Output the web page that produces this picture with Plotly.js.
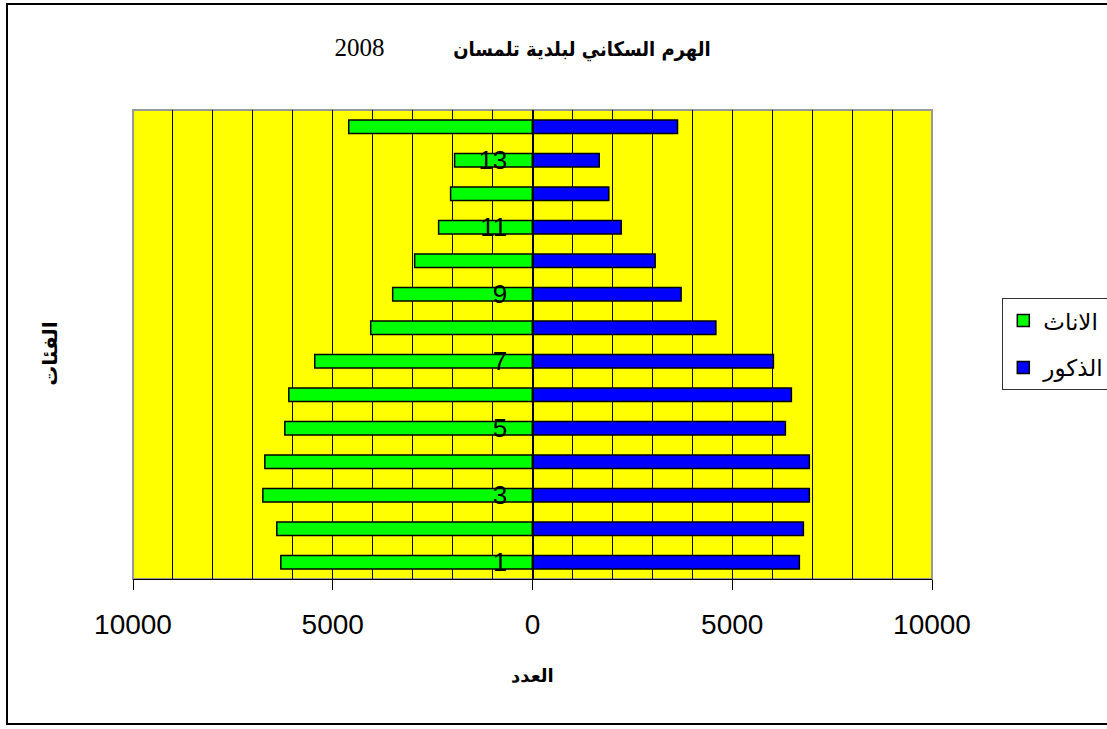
<!DOCTYPE html>
<html>
<head>
<meta charset="utf-8">
<script src="https://cdn.plot.ly/plotly-3.0.1.min.js"></script>
<style>
  html, body { margin: 0; padding: 0; background: #fff; }
  #wrap { position: relative; width: 1107px; height: 729px; overflow: hidden; }
  #chart { width: 1107px; height: 729px; }
  #frame { position: absolute; left: 6px; top: 3px; width: 1120px; height: 722px;
           border: 2px solid #000; pointer-events: none; box-sizing: border-box; }
</style>
</head>
<body>
<div id="wrap">
  <div id="chart"></div>
  <div id="frame"></div>
</div>
<script>
// Age groups (bottom to top) and population counts per sex, Tlemcen 2008
const ageGroups = [1, 2, 3, 4, 5, 6, 7, 8, 9, 10, 11, 12, 13, 14];
const females = [6300, 6400, 6750, 6700, 6200, 6100, 5450, 4050, 3500, 2950, 2350, 2050, 1950, 4600];
const males   = [6680, 6780, 6930, 6930, 6330, 6480, 6030, 4590, 3720, 3070, 2220, 1910, 1670, 3630];

const labeledGroups = [1, 3, 5, 7, 9, 11, 13];
const xTickVals = [-10000, -5000, 0, 5000, 10000];
const xTickText = ['10000', '5000', '0', '5000', '10000'];

const femaleName = 'الاناث';
const maleName = 'الذكور';
const titleArabic = 'الهرم السكاني لبلدية تلمسان';
const titleYear = '2008';
const xTitle = 'العدد';
const yTitle = 'الفئات';

// boundaries between age groups, used for the small ticks on the centre axis
const boundaries = ageGroups.map(g => g - 0.5).concat([ageGroups[ageGroups.length - 1] + 0.5]);

const barLine = { color: '#000000', width: 1.5 };

const traces = [
  {
    type: 'bar', orientation: 'h', name: femaleName, legendgroup: 'f',
    x: females.map(v => -v), y: ageGroups, width: 0.4,
    marker: { color: '#00FF00', line: barLine }, hoverinfo: 'skip'
  },
  {
    type: 'bar', orientation: 'h', name: maleName, legendgroup: 'm',
    x: males, y: ageGroups, width: 0.4,
    marker: { color: '#0000FF', line: barLine }, hoverinfo: 'skip'
  }
];

const arabicFont = 'DejaVu Sans, Noto Sans, sans-serif';
const arabicCondensed = 'DejaVu Sans Condensed, DejaVu Sans, sans-serif';
const gap = '\u00a0'.repeat(11);

const layout = {
  width: 1107, height: 729,
  margin: { l: 133, r: 175, t: 110, b: 150, autoexpand: false },
  paper_bgcolor: '#FFFFFF',
  plot_bgcolor: '#FFFF00',
  barmode: 'overlay',
  showlegend: true,
  title: {
    text: '<span style="font-family:Liberation Serif,Times New Roman,serif;font-weight:normal;font-size:25px">' +
          titleYear + gap + '</span><b>' + titleArabic + '</b>',
    font: { family: arabicCondensed, size: 20, color: '#000' },
    xref: 'paper', x: 0.4875, xanchor: 'center',
    yref: 'container', y: 0.933, yanchor: 'middle'
  },
  xaxis: {
    range: [-10000, 10000],
    tickmode: 'array', tickvals: xTickVals, ticktext: xTickText,
    ticks: 'outside', ticklen: 10, tickcolor: '#000', tickwidth: 1,
    ticklabelstandoff: 10,
    tickfont: { family: 'Liberation Sans, Arial, sans-serif', size: 28, color: '#000' },
    showgrid: true, gridcolor: '#000', gridwidth: 1,
    minor: { tickmode: 'linear', tick0: 0, dtick: 1000, showgrid: true, gridcolor: '#000', gridwidth: 1, ticks: '' },
    showline: true, linecolor: '#000', linewidth: 1,
    zeroline: false, fixedrange: true
  },
  yaxis: {
    range: [0.5, 14.5],
    anchor: 'free', position: 0.5, side: 'left',
    tickmode: 'array', tickvals: labeledGroups, ticktext: labeledGroups.map(String),
    ticks: '', ticklabelstandoff: 20,
    tickfont: { family: 'Liberation Sans, Arial, sans-serif', size: 26, color: '#000' },
    showgrid: false, zeroline: false,
    showline: true, linecolor: '#000', linewidth: 1,
    layer: 'above traces', fixedrange: true
  },
  yaxis2: {
    range: [0.5, 14.5], overlaying: 'y',
    anchor: 'free', position: 0.5, side: 'left',
    tickmode: 'array', tickvals: boundaries,
    ticks: 'outside', ticklen: 9, tickcolor: '#000', tickwidth: 1,
    showticklabels: false, showgrid: false, zeroline: false, showline: false,
    fixedrange: true
  },
  legend: {
    x: 1.088, xanchor: 'left', y: 0.599, yanchor: 'top',
    xref: 'paper', yref: 'paper',
    bgcolor: '#FFFFFF', bordercolor: '#333', borderwidth: 1,
    font: { family: arabicFont, size: 23, color: '#000' },
    traceorder: 'grouped', tracegroupgap: 14,
    itemclick: false, itemdoubleclick: false
  },
  shapes: [
    { type: 'rect', xref: 'paper', yref: 'paper', x0: 0, x1: 1, y0: 0, y1: 1,
      line: { color: '#999999', width: 2 }, layer: 'between' }
  ],
  annotations: [
    { text: '<b>' + xTitle + '</b>', xref: 'paper', yref: 'paper', x: 0.5, y: -0.205,
      xanchor: 'center', yanchor: 'middle', showarrow: false,
      font: { family: arabicFont, size: 18, color: '#000' } },
    { text: '<b>' + yTitle + '</b>', xref: 'paper', yref: 'paper', x: -0.104, y: 0.482,
      xanchor: 'center', yanchor: 'middle', textangle: -90, showarrow: false,
      font: { family: arabicFont, size: 20, color: '#000' } }
  ]
};

Plotly.newPlot('chart', traces, layout, { staticPlot: true, displayModeBar: false });
</script>
</body>
</html>
